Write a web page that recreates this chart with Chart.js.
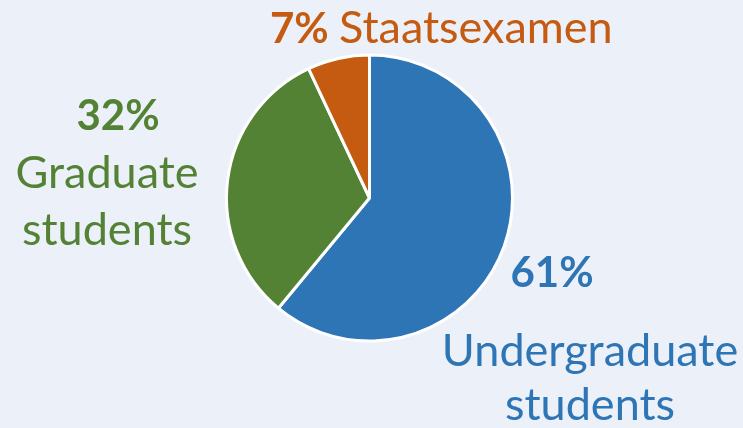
<!DOCTYPE html>
<html>
<head>
<meta charset="utf-8">
<script src="https://cdn.jsdelivr.net/npm/chart.js@4"></script>
<style>
  html, body { margin: 0; padding: 0; background: #ecf0f8; }
  #wrap { width: 743px; height: 428px; position: relative; }
</style>
</head>
<body>
<div id="wrap"><canvas id="pie"></canvas></div>
<script>
const categories = ["Undergraduate students", "Graduate students", "Staatsexamen"];
const shares = [61, 32, 7];
const colors = ["#2e75b6", "#548235", "#c55a11"];

// where each label goes (center x, first baseline y, line gap)
const labelSpots = [
  { pctX: 552, pctY: 287, x: 590, y: 366, gap: 54 },
  { pctX: 118, pctY: 130, x: 107, y: 188, gap: 57 },
  { inline: true, x: 270, y: 43 }
];

const FONT = "Lato";
const SIZE = 45;
const PCT_SIZE = 42;

const labelPlugin = {
  id: "sliceLabels",
  afterDraw(chart) {
    const ctx = chart.ctx;
    ctx.save();
    ctx.textBaseline = "alphabetic";
    categories.forEach((name, i) => {
      const spot = labelSpots[i];
      const pct = shares[i] + "%";
      ctx.fillStyle = colors[i];
      if (spot.inline) {
        ctx.textAlign = "left";
        ctx.font = `bold ${PCT_SIZE}px ${FONT}`;
        ctx.fillText(pct, spot.x, spot.y);
        const w = ctx.measureText(pct + " ").width;
        ctx.font = `${SIZE}px ${FONT}`;
        ctx.fillText(name, spot.x + w, spot.y);
        return;
      }
      ctx.textAlign = "center";
      ctx.font = `bold ${PCT_SIZE}px ${FONT}`;
      ctx.fillText(pct, spot.pctX, spot.pctY);
      ctx.font = `${SIZE}px ${FONT}`;
      name.split(" ").forEach((line, k) => {
        ctx.fillText(line, spot.x, spot.y + k * spot.gap);
      });
    });
    ctx.restore();
  }
};

new Chart(document.getElementById("pie"), {
  type: "pie",
  data: {
    labels: categories,
    datasets: [{
      data: shares,
      backgroundColor: colors,
      borderColor: "#ffffff",
      borderWidth: 3
    }]
  },
  options: {
    responsive: true,
    maintainAspectRatio: false,
    animation: false,
    radius: 143,
    layout: { padding: { left: 0, right: 4, top: 0, bottom: 32 } },
    plugins: {
      legend: { display: false },
      tooltip: { enabled: false }
    }
  },
  plugins: [labelPlugin]
});
</script>
</body>
</html>
